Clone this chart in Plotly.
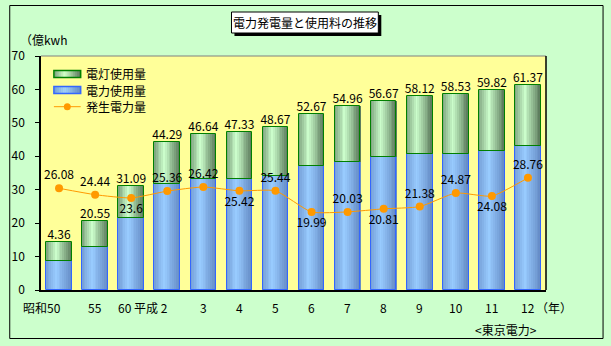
import plotly.graph_objects as go

# ---------------- data ----------------
categories = ["昭和50", "55", "60", "平成 2", "3", "4", "5", "6", "7", "8", "9", "10", "11", "12"]
total_use = [14.36, 20.55, 31.09, 44.29, 46.64, 47.33, 48.67, 52.67, 54.96, 56.67, 58.12, 58.53, 59.82, 61.37]
total_labels = ["4.36", "20.55", "31.09", "44.29", "46.64", "47.33", "48.67", "52.67", "54.96", "56.67", "58.12", "58.53", "59.82", "61.37"]
power_use = [8.8, 13.0, 21.6, 31.6, 33.1, 33.1, 34.1, 37.0, 38.4, 39.7, 40.8, 40.8, 41.7, 43.2]
generated = [26.08, 24.44, 23.6, 25.36, 26.42, 25.42, 25.44, 19.99, 20.03, 20.81, 21.38, 24.87, 24.08, 28.76]
gen_text_pos = ["top center", "top center", "bottom center", "top center", "top center", "bottom center",
                "top center", "bottom center", "top center", "bottom center", "top center", "top center",
                "bottom center", "top center"]
light_use = [t - p for t, p in zip(total_use, power_use)]
xs = list(range(len(categories)))

# ---------------- geometry ----------------
W, H = 611, 346
PL, PR, PT, PB = 37, 546, 56, 290
FONT = "Noto Sans CJK JP, Noto Sans, sans-serif"


def px(x):
    return (x - PL) / (PR - PL)


def py(y):
    return (PB - y) / (PB - PT)


def mix(c1, c2, b):
    return "rgb(%d,%d,%d)" % tuple(round(a + (c - a) * b) for a, c in zip(c1, c2))


def bright(t):
    peak = 0.4
    if t < peak:
        b = 0.3 + 0.7 * (t / peak)
    else:
        b = 1 - (t - peak) / (1 - peak)
    return max(0.0, min(1.0, b))


BLUE_D, BLUE_L = (100, 138, 196), (153, 204, 255)
GREEN_D, GREEN_L = (88, 118, 88), (204, 255, 204)
BW = 0.71
N = 14

fig = go.Figure()

# gradient strips
for k in range(N):
    t = (k + 0.5) / N
    b = bright(t)
    off = -BW / 2 + k * BW / N
    fig.add_trace(go.Bar(x=xs, y=power_use, width=BW / N * 1.08, offset=off,
                         marker=dict(color=mix(BLUE_D, BLUE_L, b), line=dict(width=0)),
                         showlegend=False, hoverinfo="skip"))
    fig.add_trace(go.Bar(x=xs, y=light_use, base=power_use, width=BW / N * 1.08, offset=off,
                         marker=dict(color=mix(GREEN_D, GREEN_L, b), line=dict(width=0)),
                         showlegend=False, hoverinfo="skip"))

# outlines
fig.add_trace(go.Bar(x=xs, y=power_use, width=BW, offset=-BW / 2,
                     marker=dict(color="rgba(0,0,0,0)", line=dict(color="#3366FF", width=1)),
                     name="電力使用量", showlegend=False, hoverinfo="skip"))
fig.add_trace(go.Bar(x=xs, y=light_use, base=power_use, width=BW, offset=-BW / 2,
                     marker=dict(color="rgba(0,0,0,0)", line=dict(color="#008000", width=1)),
                     name="電灯使用量", showlegend=False, hoverinfo="skip"))

# total labels
fig.add_trace(go.Scatter(x=xs, y=total_use, mode="text", text=total_labels,
                         textposition="top center", textfont=dict(family=FONT, size=12, color="black"),
                         showlegend=False, cliponaxis=False, hoverinfo="skip"))

# generated power line (secondary axis)
fig.add_trace(go.Scatter(x=xs, y=generated, yaxis="y2", mode="lines+markers+text",
                         text=[f"{v:g}" for v in generated], textposition=gen_text_pos,
                         textfont=dict(family=FONT, size=12, color="black"),
                         line=dict(color="#FF9900", width=1, shape="spline", smoothing=0.5),
                         marker=dict(color="#FF9900", size=8),
                         name="発生電力量", showlegend=False, cliponaxis=False))

shapes = []
annotations = []

# outer frame
shapes.append(dict(type="rect", xref="paper", yref="paper", x0=px(5.5), x1=px(603.5), y0=py(5.5), y1=py(338.5),
                   line=dict(color="black", width=1), layer="below"))
# plot area border
shapes.append(dict(type="line", xref="paper", yref="paper", x0=0, x1=1, y0=1, y1=1,
                   line=dict(color="#808080", width=1)))
shapes.append(dict(type="line", xref="paper", yref="paper", x0=1, x1=1, y0=0, y1=1,
                   line=dict(color="black", width=1.5)))

# title box with shadow
shapes.append(dict(type="rect", xref="paper", yref="paper", x0=px(232), x1=px(380), y0=py(15), y1=py(36),
                   fillcolor="black", line=dict(width=0), layer="above"))
shapes.append(dict(type="rect", xref="paper", yref="paper", x0=px(229), x1=px(377), y0=py(12), y1=py(33),
                   fillcolor="white", line=dict(color="black", width=1), layer="above"))
annotations.append(dict(text="電力発電量と使用料の推移", xref="paper", yref="paper", x=px(303), y=py(22.5),
                        showarrow=False, xanchor="center", yanchor="middle",
                        font=dict(family=FONT, size=12, color="black")))

# manual legend
legend_rows = [("電灯使用量", GREEN_D, GREEN_L, "#008000", 74), ("電力使用量", BLUE_D, BLUE_L, "#3366FF", 90)]
for name, dk, lt, border, yc in legend_rows:
    x0, x1 = 50, 77
    n = 14
    for k in range(n):
        t = (k + 0.5) / n
        shapes.append(dict(type="rect", xref="paper", yref="paper",
                           x0=px(x0 + (x1 - x0) * k / n), x1=px(x0 + (x1 - x0) * (k + 1.1) / n),
                           y0=py(yc - 3.5), y1=py(yc + 3.5),
                           fillcolor=mix(dk, lt, bright(t)), line=dict(width=0), layer="above"))
    shapes.append(dict(type="rect", xref="paper", yref="paper", x0=px(x0), x1=px(x1),
                       y0=py(yc - 3.5), y1=py(yc + 3.5), line=dict(color=border, width=1.5), layer="above"))
    annotations.append(dict(text=name, xref="paper", yref="paper", x=px(80), y=py(yc), showarrow=False,
                            xanchor="left", yanchor="middle", font=dict(family=FONT, size=12, color="black")))
shapes.append(dict(type="line", xref="paper", yref="paper", x0=px(50), x1=px(77), y0=py(106.7), y1=py(106.7),
                   line=dict(color="#FF9900", width=1), layer="above"))
shapes.append(dict(type="circle", xref="paper", yref="paper", x0=px(60), x1=px(67), y0=py(103.2), y1=py(110.2),
                   fillcolor="#FF9900", line=dict(width=0), layer="above"))
annotations.append(dict(text="発生電力量", xref="paper", yref="paper", x=px(80), y=py(106.7), showarrow=False,
                        xanchor="left", yanchor="middle", font=dict(family=FONT, size=12, color="black")))

# category labels
for i, c in enumerate(categories):
    if i == 0:
        a = dict(xanchor="right", xshift=3)
    elif i == 2:
        a = dict(xanchor="right", xshift=2)
    elif i == 3:
        a = dict(xanchor="right", xshift=2)
    else:
        a = dict(xanchor="center")
    annotations.append(dict(text=c, xref="x", yref="paper", x=i, y=py(307), showarrow=False,
                            yanchor="middle", borderpad=0, font=dict(family=FONT, size=12, color="black"), **a))

annotations.append(dict(text="（年）", xref="paper", yref="paper", x=px(534), y=py(307), showarrow=False,
                        xanchor="left", yanchor="middle", font=dict(family=FONT, size=12, color="black")))
annotations.append(dict(text="&lt;東京電力&gt;", xref="paper", yref="paper", x=px(506), y=py(329), showarrow=False,
                        xanchor="center", yanchor="middle", font=dict(family=FONT, size=12, color="black")))
annotations.append(dict(text="（億kwh", xref="paper", yref="paper", x=px(14), y=py(39), showarrow=False,
                        xanchor="left", yanchor="middle", font=dict(family=FONT, size=12, color="black")))

fig.update_layout(
    width=W, height=H,
    margin=dict(l=PL, r=W - PR, t=PT, b=H - PB, pad=0),
    paper_bgcolor="#CCFFCC", plot_bgcolor="#FFFF99",
    barmode="overlay", bargap=0,
    showlegend=False,
    font=dict(family=FONT, size=12, color="black"),
    xaxis=dict(range=[-0.5, len(categories) - 0.5], showticklabels=False, ticks="", showgrid=False,
               zeroline=False, showline=True, linecolor="black", linewidth=1.5, fixedrange=True),
    yaxis=dict(range=[0, 70], dtick=10, ticks="outside", ticklen=4, tickcolor="black", showgrid=False,
               zeroline=False, showline=True, linecolor="black", linewidth=1.5, ticklabelstandoff=8,
               tickfont=dict(family=FONT, size=12, color="black")),
    yaxis2=dict(range=[0, 60], overlaying="y", visible=False),
    shapes=shapes, annotations=annotations,
)

fig.write_html("out.html")
